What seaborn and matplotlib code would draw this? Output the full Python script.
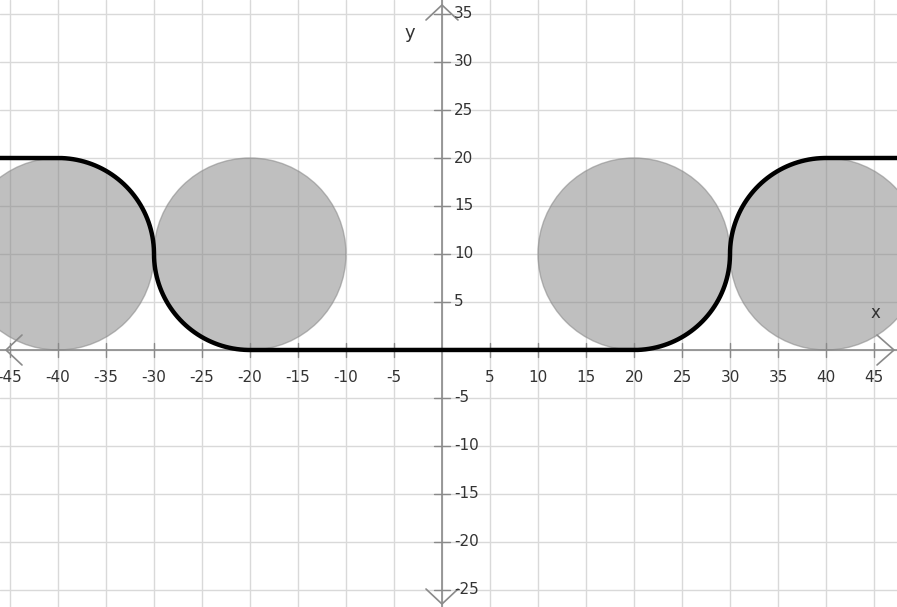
import numpy as np
import pandas as pd
import matplotlib
matplotlib.use("Agg")
import matplotlib.pyplot as plt
from matplotlib.patches import Circle
import seaborn as sns

# ---- data ----
circle_x = [-40, -20, 20, 40]
circle_y = [10, 10, 10, 10]
circle_r = 10
# path pieces: (kind, params)
# straight ends and arcs (center x, center y, start angle, end angle in degrees)
arc_cx = [-40, -20, 20, 40]
arc_cy = [10, 10, 10, 10]
arc_start = [90, 180, 270, 180]
arc_end = [0, 270, 360, 90]
left_end = (-48, 20)
right_end = (48, 20)
x_ticks = [-45, -40, -35, -30, -25, -20, -15, -10, -5, 5, 10, 15, 20, 25, 30, 35, 40, 45]
y_ticks = [-25, -20, -15, -10, -5, 5, 10, 15, 20, 25, 30, 35]

sns.set_style("white")
plt.rcParams['font.family'] = ['DejaVu Sans']

fig = plt.figure(figsize=(8.97, 6.07), dpi=100)
ax = fig.add_axes([0, 0, 1, 1])
xmin, xmax = -442 / 9.6, 455 / 9.6
ymin, ymax = -257 / 9.6, 350 / 9.6
ax.set_xlim(xmin, xmax)
ax.set_ylim(ymin, ymax)
ax.axis('off')

grid_c = '#d9d9d9'
for g in np.arange(-45, 50, 5):
    ax.axvline(g, color=grid_c, lw=1, zorder=0)
for g in np.arange(-25, 40, 5):
    ax.axhline(g, color=grid_c, lw=1, zorder=0)

# circles
for cx, cy in zip(circle_x, circle_y):
    ax.add_patch(Circle((cx, cy), circle_r, facecolor=(0.5, 0.5, 0.5, 0.5),
                        edgecolor=(0.55, 0.55, 0.55, 0.6), lw=1, zorder=2))

# axes lines
ax_c = '#8a8a8a'
ax.plot([xmin, xmax], [0, 0], color=ax_c, lw=1.2, zorder=3)
ax.plot([0, 0], [ymin, ymax], color=ax_c, lw=1.2, zorder=3)
u = 1 / 9.6
# arrows (chevrons)
ax.plot([xmin + 22 * u, xmin + 6 * u, xmin + 22 * u], [15 * u, 0, -15 * u], color=ax_c, lw=1.2, zorder=3)
ax.plot([xmax - 20 * u, xmax - 3 * u, xmax - 20 * u], [15 * u, 0, -15 * u], color=ax_c, lw=1.2, zorder=3)
ax.plot([-16 * u, 0, 16 * u], [ymax - 20 * u, ymax - 5 * u, ymax - 20 * u], color=ax_c, lw=1.2, zorder=3)
ax.plot([-16 * u, 0, 16 * u], [ymin + 18 * u, ymin + 3 * u, ymin + 18 * u], color=ax_c, lw=1.2, zorder=3)

# ticks and labels
for t in x_ticks:
    ax.plot([t, t], [-7 * u, 7 * u], color=ax_c, lw=1, zorder=3)
    ax.text(t, -27 * u, f"{t}", ha='center', va='center', fontsize=11, color='#333333')
for t in y_ticks:
    ax.plot([-8 * u, 8 * u], [t, t], color=ax_c, lw=1, zorder=3)
    ax.text(12 * u, t, f"{t}", ha='left', va='center', fontsize=11, color='#333333')

ax.text(45.2, 3.85, "x", ha='center', va='center', fontsize=12, color='#333333')
ax.text(-3.4, 33.0, "y", ha='center', va='center', fontsize=13, color='#333333')

# curve
xs = [left_end[0]]
ys = [left_end[1]]
for cx, cy, a0, a1 in zip(arc_cx, arc_cy, arc_start, arc_end):
    th = np.radians(np.linspace(a0, a1, 80))
    xs.extend(list(cx + circle_r * np.cos(th)))
    ys.extend(list(cy + circle_r * np.sin(th)))
xs.append(right_end[0])
ys.append(right_end[1])
df = pd.DataFrame({"x": xs, "y": ys, "o": np.arange(len(xs))})
sns.lineplot(data=df, x="x", y="y", sort=False, estimator=None, color='black', lw=3.2, ax=ax, zorder=5)
ax.set_xlim(xmin, xmax)
ax.set_ylim(ymin, ymax)
ax.axis('off')

fig.savefig("out.png", dpi=100)
